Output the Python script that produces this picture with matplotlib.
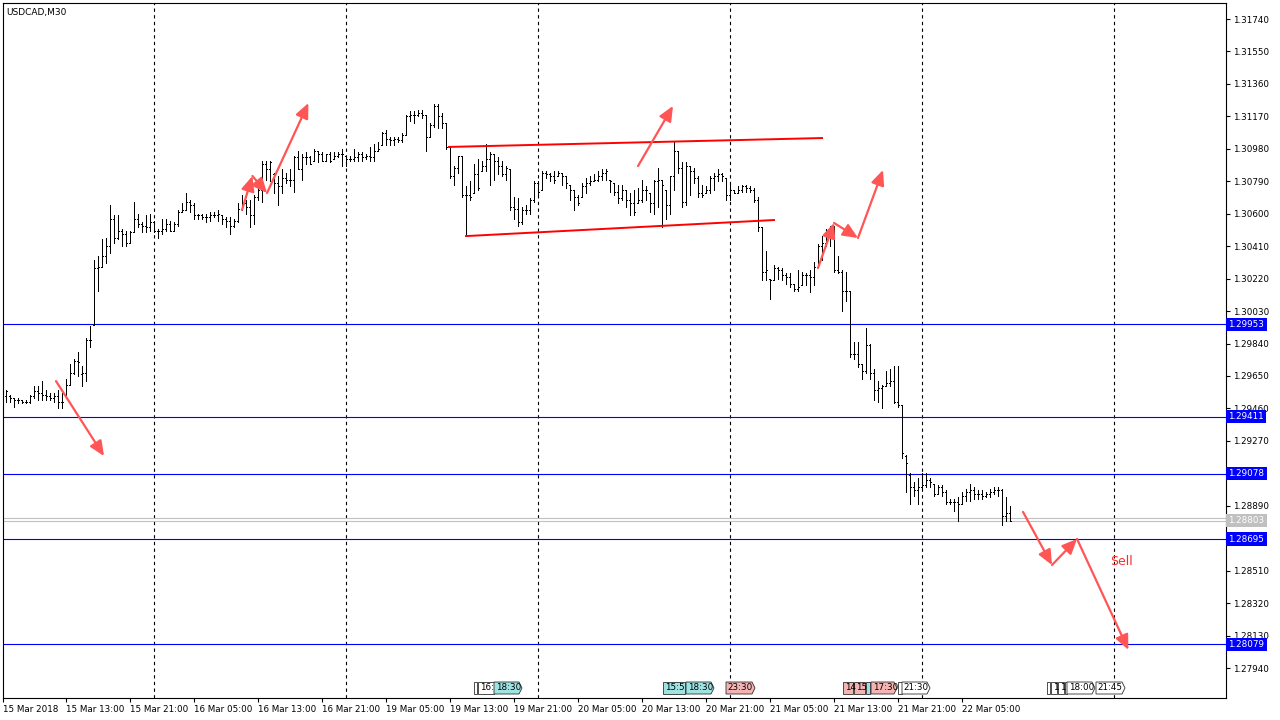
import matplotlib.pyplot as plt
import matplotlib.transforms as mtransforms
from matplotlib.collections import LineCollection
from matplotlib.patches import Polygon

plt.rcParams['font.family'] = ['DejaVu Sans']

# USDCAD M30 bars (bar 0 = 15 Mar 05:30)
opens = [
    1.2953, 1.2953, 1.2952, 1.2951, 1.2951, 1.2950, 1.2950, 1.2953, 1.2956, 1.2955,
    1.2954, 1.2953, 1.2952, 1.2953, 1.2950, 1.2953, 1.2960, 1.2967, 1.2974, 1.2966,
    1.2967, 1.2986, 1.2995, 1.3028, 1.3029, 1.3035, 1.3041, 1.3057, 1.3046, 1.3050,
    1.3048, 1.3043, 1.3049, 1.3057, 1.3054, 1.3053, 1.3052, 1.3055, 1.3050, 1.3050,
    1.3051, 1.3054, 1.3050, 1.3054,
    1.3061, 1.3062, 1.3067, 1.3065, 1.3059, 1.3059,
    1.3058, 1.3058, 1.3059, 1.3059, 1.3059, 1.3057, 1.3056, 1.3053, 1.3056, 1.3063,
    1.3066, 1.3064, 1.3059, 1.3070, 1.3074, 1.3089, 1.3086, 1.3083, 1.3078, 1.3076,
    1.3081, 1.3080, 1.3080, 1.3093, 1.3086, 1.3093, 1.3093, 1.3091, 1.3097, 1.3095,
    1.3091, 1.3095, 1.3092, 1.3094, 1.3095,
    1.3094, 1.3092, 1.3092, 1.3093, 1.3095,
    1.3093, 1.3094, 1.3093, 1.3097, 1.3100, 1.3107, 1.3104, 1.3103, 1.3104, 1.3103,
    1.3106, 1.3117, 1.3118, 1.3118, 1.3119, 1.3118, 1.3105, 1.3112, 1.3123, 1.3117,
    1.3113, 1.3099, 1.3082, 1.3087, 1.3094, 1.3071, 1.3071, 1.3072, 1.3083, 1.3085,
    1.3088, 1.3092, 1.3095, 1.3091, 1.3088, 1.3083, 1.3086, 1.3064, 1.3063,
    1.3055, 1.3062, 1.3062, 1.3068, 1.3078, 1.3074, 1.3084, 1.3083, 1.3082, 1.3082, 1.3084,
    1.3082, 1.3077, 1.3074, 1.3070, 1.3070, 1.3076, 1.3078, 1.3079, 1.3080, 1.3082,
    1.3084, 1.3080, 1.3078, 1.3073, 1.3069, 1.3074, 1.3068, 1.3066, 1.3066, 1.3068,
    1.3074, 1.3072, 1.3066, 1.3079,
    1.3080, 1.3074, 1.3065, 1.3082, 1.3097, 1.3087,
    1.3067, 1.3088, 1.3085, 1.3081, 1.3072, 1.3072, 1.3074, 1.3081, 1.3082, 1.3083,
    1.3081, 1.3071, 1.3074, 1.3072, 1.3074, 1.3076, 1.3075, 1.3074, 1.3068, 1.3052,
    1.3026, 1.3022, 1.3021, 1.3028, 1.3027, 1.3024, 1.3023, 1.3019, 1.3016, 1.3018,
    1.3024, 1.3024, 1.3023, 1.3029, 1.3041, 1.3043, 1.3047, 1.3050, 1.3027,
    1.3026, 1.3015, 1.3015, 1.2978, 1.2978, 1.2972, 1.2968, 1.2983, 1.2967, 1.2957, 1.2958,
    1.2959, 1.2961, 1.2962, 1.2950, 1.2948,
    1.2918, 1.2907, 1.2900, 1.2898, 1.2900, 1.2901, 1.2904, 1.2902, 1.2896, 1.2900,
    1.2897, 1.2891, 1.2891, 1.2891, 1.2890, 1.2895, 1.2897, 1.2898, 1.2896, 1.2896,
    1.2895, 1.2896, 1.2897, 1.2898, 1.2898, 1.2883, 1.2885,
]
highs = [
    1.2957, 1.2954, 1.2952, 1.2952, 1.2951, 1.2951, 1.2954, 1.2959, 1.2959, 1.2962,
    1.2957, 1.2955, 1.2955, 1.2957, 1.2955, 1.2963, 1.2972, 1.2975, 1.2979, 1.2971,
    1.2987, 1.2994, 1.3033, 1.3035, 1.3045, 1.3046, 1.3065, 1.3059, 1.3059, 1.3051,
    1.3050, 1.3050, 1.3067, 1.3060, 1.3055, 1.3059, 1.3060, 1.3056, 1.3051, 1.3057,
    1.3057, 1.3056, 1.3055, 1.3062,
    1.3066, 1.3072, 1.3068, 1.3066, 1.3060, 1.3060,
    1.3060, 1.3061, 1.3061, 1.3062, 1.3059, 1.3058, 1.3058, 1.3057, 1.3066, 1.3071,
    1.3068, 1.3068, 1.3071, 1.3076, 1.3091, 1.3091, 1.3091, 1.3084, 1.3082, 1.3086,
    1.3084, 1.3086, 1.3094, 1.3097, 1.3095, 1.3096, 1.3094, 1.3098, 1.3097, 1.3096,
    1.3095, 1.3096, 1.3096, 1.3096, 1.3098,
    1.3094, 1.3094, 1.3098, 1.3096, 1.3096,
    1.3095, 1.3099, 1.3101, 1.3102, 1.3108, 1.3109, 1.3105, 1.3105, 1.3105, 1.3107,
    1.3118, 1.3120, 1.3120, 1.3121, 1.3121, 1.3118, 1.3113, 1.3124, 1.3124, 1.3119,
    1.3113, 1.3099, 1.3088, 1.3094, 1.3094, 1.3076, 1.3079, 1.3089, 1.3092, 1.3091,
    1.3101, 1.3096, 1.3095, 1.3093, 1.3091, 1.3088, 1.3086, 1.3070, 1.3069,
    1.3064, 1.3065, 1.3069, 1.3079, 1.3079, 1.3085, 1.3085, 1.3084, 1.3085, 1.3085, 1.3084,
    1.3082, 1.3077, 1.3074, 1.3071, 1.3078, 1.3081, 1.3082, 1.3083, 1.3085, 1.3086,
    1.3086, 1.3080, 1.3078, 1.3077, 1.3077, 1.3074, 1.3072, 1.3074, 1.3075, 1.3080,
    1.3076, 1.3072, 1.3080, 1.3087,
    1.3080, 1.3074, 1.3082, 1.3102, 1.3097, 1.3090,
    1.3090, 1.3088, 1.3087, 1.3082, 1.3077, 1.3076, 1.3082, 1.3084, 1.3086, 1.3084,
    1.3081, 1.3078, 1.3074, 1.3076, 1.3077, 1.3077, 1.3076, 1.3075, 1.3070, 1.3052,
    1.3038, 1.3022, 1.3030, 1.3029, 1.3028, 1.3025, 1.3025, 1.3019, 1.3027, 1.3026,
    1.3025, 1.3027, 1.3032, 1.3042, 1.3047, 1.3051, 1.3053, 1.3053, 1.3035,
    1.3027, 1.3026, 1.3015, 1.2985, 1.2985, 1.2972, 1.2993, 1.2984, 1.2969, 1.2962, 1.2960,
    1.2968, 1.2969, 1.2971, 1.2971, 1.2948,
    1.2919, 1.2908, 1.2903, 1.2905, 1.2908, 1.2908, 1.2905, 1.2902, 1.2901, 1.2901,
    1.2898, 1.2893, 1.2893, 1.2894, 1.2897, 1.2899, 1.2902, 1.2900, 1.2898, 1.2898,
    1.2897, 1.2899, 1.2900, 1.2900, 1.2899, 1.2894, 1.2889,
]
lows = [
    1.2950, 1.2950, 1.2947, 1.2949, 1.2949, 1.2949, 1.2949, 1.2952, 1.2951, 1.2951,
    1.2951, 1.2951, 1.2950, 1.2946, 1.2946, 1.2953, 1.2960, 1.2966, 1.2965, 1.2959,
    1.2962, 1.2982, 1.2995, 1.3015, 1.3029, 1.3031, 1.3037, 1.3043, 1.3045, 1.3041,
    1.3041, 1.3043, 1.3049, 1.3052, 1.3049, 1.3049, 1.3050, 1.3049, 1.3046, 1.3048,
    1.3050, 1.3050, 1.3050, 1.3053,
    1.3061, 1.3062, 1.3061, 1.3057, 1.3057, 1.3057,
    1.3055, 1.3056, 1.3058, 1.3056, 1.3054, 1.3052, 1.3048, 1.3052, 1.3055, 1.3062,
    1.3060, 1.3052, 1.3054, 1.3068, 1.3067, 1.3080, 1.3079, 1.3072, 1.3065, 1.3072,
    1.3078, 1.3076, 1.3073, 1.3086, 1.3080, 1.3089, 1.3089, 1.3091, 1.3090, 1.3091,
    1.3091, 1.3090, 1.3092, 1.3093, 1.3088,
    1.3088, 1.3091, 1.3091, 1.3091, 1.3091,
    1.3092, 1.3091, 1.3091, 1.3097, 1.3100, 1.3100, 1.3100, 1.3100, 1.3102, 1.3102,
    1.3106, 1.3114, 1.3113, 1.3117, 1.3116, 1.3097, 1.3105, 1.3111, 1.3110, 1.3110,
    1.3098, 1.3081, 1.3077, 1.3084, 1.3070, 1.3047, 1.3068, 1.3072, 1.3074, 1.3085,
    1.3085, 1.3077, 1.3080, 1.3083, 1.3082, 1.3080, 1.3062, 1.3057, 1.3053,
    1.3054, 1.3060, 1.3060, 1.3067, 1.3070, 1.3074, 1.3081, 1.3079, 1.3078, 1.3082, 1.3077,
    1.3075, 1.3068, 1.3062, 1.3065, 1.3070, 1.3072, 1.3077, 1.3079, 1.3079, 1.3080,
    1.3080, 1.3073, 1.3071, 1.3066, 1.3068, 1.3064, 1.3059, 1.3059, 1.3066, 1.3067,
    1.3068, 1.3061, 1.3060, 1.3064,
    1.3052, 1.3057, 1.3060, 1.3074, 1.3084, 1.3064,
    1.3065, 1.3071, 1.3078, 1.3070, 1.3070, 1.3072, 1.3072, 1.3074, 1.3079, 1.3079,
    1.3068, 1.3068, 1.3072, 1.3072, 1.3073, 1.3073, 1.3073, 1.3067, 1.3050, 1.3021,
    1.3021, 1.3010, 1.3021, 1.3022, 1.3021, 1.3019, 1.3017, 1.3015, 1.3015, 1.3018,
    1.3018, 1.3014, 1.3018, 1.3029, 1.3033, 1.3041, 1.3041, 1.3026, 1.3025,
    1.3003, 1.3009, 1.2976, 1.2975, 1.2970, 1.2963, 1.2967, 1.2963, 1.2951, 1.2950, 1.2946,
    1.2959, 1.2959, 1.2949, 1.2947, 1.2917,
    1.2897, 1.2890, 1.2895, 1.2890, 1.2899, 1.2900, 1.2900, 1.2895, 1.2896, 1.2895,
    1.2890, 1.2890, 1.2886, 1.2880, 1.2890, 1.2892, 1.2892, 1.2893, 1.2893, 1.2893,
    1.2894, 1.2894, 1.2896, 1.2895, 1.2878, 1.2880, 1.2880,
]
closes = [
    1.2956, 1.2952, 1.2951, 1.2951, 1.2950, 1.2950, 1.2953, 1.2956, 1.2955, 1.2954,
    1.2953, 1.2952, 1.2953, 1.2950, 1.2950, 1.2960, 1.2967, 1.2974, 1.2973, 1.2967,
    1.2986, 1.2986, 1.3028, 1.3029, 1.3035, 1.3041, 1.3057, 1.3046, 1.3050, 1.3048,
    1.3043, 1.3049, 1.3057, 1.3054, 1.3053, 1.3052, 1.3055, 1.3050, 1.3050, 1.3051,
    1.3054, 1.3050, 1.3054, 1.3061,
    1.3062, 1.3067, 1.3065, 1.3059, 1.3059, 1.3058,
    1.3058, 1.3059, 1.3059, 1.3060, 1.3057, 1.3056, 1.3053, 1.3056, 1.3063, 1.3066,
    1.3064, 1.3059, 1.3070, 1.3074, 1.3089, 1.3086, 1.3090, 1.3078, 1.3076, 1.3081,
    1.3080, 1.3080, 1.3093, 1.3086, 1.3093, 1.3093, 1.3089, 1.3097, 1.3095, 1.3091,
    1.3095, 1.3091, 1.3094, 1.3095, 1.3095,
    1.3092, 1.3092, 1.3093, 1.3095, 1.3093,
    1.3094, 1.3093, 1.3097, 1.3098, 1.3107, 1.3104, 1.3103, 1.3104, 1.3103, 1.3106,
    1.3117, 1.3118, 1.3118, 1.3119, 1.3118, 1.3105, 1.3112, 1.3123, 1.3117, 1.3113,
    1.3099, 1.3082, 1.3087, 1.3094, 1.3071, 1.3071, 1.3070, 1.3083, 1.3075, 1.3088,
    1.3092, 1.3095, 1.3091, 1.3088, 1.3083, 1.3087, 1.3064, 1.3063, 1.3055,
    1.3062, 1.3062, 1.3068, 1.3078, 1.3073, 1.3084, 1.3083, 1.3082, 1.3080, 1.3084, 1.3082,
    1.3078, 1.3074, 1.3070, 1.3066, 1.3076, 1.3078, 1.3079, 1.3080, 1.3082, 1.3084,
    1.3085, 1.3079, 1.3073, 1.3069, 1.3074, 1.3068, 1.3066, 1.3061, 1.3068, 1.3074,
    1.3074, 1.3066, 1.3079, 1.3080,
    1.3077, 1.3065, 1.3082, 1.3097, 1.3087, 1.3067,
    1.3088, 1.3085, 1.3081, 1.3072, 1.3071, 1.3074, 1.3081, 1.3082, 1.3083, 1.3082,
    1.3071, 1.3074, 1.3072, 1.3074, 1.3076, 1.3075, 1.3074, 1.3068, 1.3052, 1.3026,
    1.3027, 1.3021, 1.3028, 1.3027, 1.3024, 1.3023, 1.3019, 1.3016, 1.3017, 1.3024,
    1.3024, 1.3023, 1.3029, 1.3041, 1.3043, 1.3047, 1.3050, 1.3027, 1.3026,
    1.3015, 1.3015, 1.2978, 1.2978, 1.2972, 1.2968, 1.2983, 1.2967, 1.2957, 1.2958, 1.2959,
    1.2961, 1.2962, 1.2950, 1.2948, 1.2920,
    1.2914, 1.2900, 1.2898, 1.2900, 1.2901, 1.2904, 1.2903, 1.2896, 1.2900, 1.2897,
    1.2891, 1.2891, 1.2891, 1.2890, 1.2895, 1.2897, 1.2898, 1.2896, 1.2896, 1.2895,
    1.2896, 1.2897, 1.2898, 1.2898, 1.2883, 1.2885, 1.2880,
]

# time axis (bar index -> label)
time_pos = [-0.75, 15, 31, 47, 63, 79, 95, 111, 127, 143, 159, 175, 191, 207, 223, 239]
time_labels = ['15 Mar 2018', '15 Mar 13:00', '15 Mar 21:00', '16 Mar 05:00', '16 Mar 13:00',
               '16 Mar 21:00', '19 Mar 05:00', '19 Mar 13:00', '19 Mar 21:00', '20 Mar 05:00',
               '20 Mar 13:00', '20 Mar 21:00', '21 Mar 05:00', '21 Mar 13:00', '21 Mar 21:00',
               '22 Mar 05:00']
day_starts = [37, 85, 133, 181, 229, 277]

price_ticks = [1.27940, 1.28130, 1.28320, 1.28510, 1.28700, 1.28890, 1.29080, 1.29270,
               1.29460, 1.29650, 1.29840, 1.30030, 1.30220, 1.30410, 1.30600, 1.30790,
               1.30980, 1.31170, 1.31360, 1.31550, 1.31740]

levels = [1.29953, 1.29411, 1.29078, 1.28695, 1.28079]
bid = 1.28803
ask = 1.28817

# channel lines (bar index, price)
chan_top_x = [110.75, 204]
chan_top_y = [1.30991, 1.31043]
chan_bot_x = [115, 192]
chan_bot_y = [1.30469, 1.30563]

# hand drawn arrow paths
arrow_paths = [
    ([12.5, 24.5], [1.29620, 1.29181]),
    ([59, 61.6, 65.25, 75.6], [1.30622, 1.30821, 1.30721, 1.31248]),
    ([158, 166.75], [1.30879, 1.31231]),
    ([203, 207, 213, 219.25], [1.30282, 1.30546, 1.30458, 1.30856]),
    ([254.25, 261.5, 267.75, 280.6], [1.28854, 1.28543, 1.28696, 1.28046]),
]

# calendar events along the time axis
ev_start = [117, 118, 122, 164.25, 170, 180, 209.25, 212, 215, 216.25, 223, 224,
            260.25, 261.25, 263, 264.75, 265.25, 272.5]
ev_end = [117.75, 122, 129, 169.75, 177, 187.25, 211.75, 214.75, 216, 222.75, 224, 231,
          261, 262.75, 264.5, 265.25, 272.25, 279.75]
ev_text = ['', '16:', '18:30', '15:5', '18:30', '23:30', '14', '15', '', '17:30', '', '21:30',
           '', '1', '1', '', '18:00', '21:45']
ev_kind = ['w', 'w', 'c', 'c', 'c', 'p', 'p', 'p', 'c', 'p', 'w', 'w',
           'w', 'w', 'w', 'w', 'w', 'w']
ev_color = {'w': 'white', 'c': '#9FE2E2', 'p': '#F4B4B4'}

fig = plt.figure(figsize=(12.8, 7.2), dpi=100)
ax = fig.add_axes([3 / 1280, 22 / 720, 1223 / 1280, 695 / 720])
ax.set_xlim(-0.75, 305)
ax.set_ylim(1.277645, 1.318337)

# day separators
for d in day_starts:
    ax.axvline(d, color='black', lw=0.8, ls=(0, (3, 3)), zorder=1)

# support / resistance levels
for lv in levels:
    ax.axhline(lv, color='#0000FF', lw=0.8, zorder=1)
ax.axhline(bid, color='#C0C0C0', lw=0.8, zorder=1)
ax.axhline(ask, color='#C0C0C0', lw=0.8, zorder=1)

# OHLC bars
segs = []
for i in range(len(closes)):
    segs.append([(i, lows[i]), (i, highs[i])])
    segs.append([(i - 0.35, opens[i]), (i, opens[i])])
    segs.append([(i, closes[i]), (i + 0.35, closes[i])])
ax.add_collection(LineCollection(segs, colors='black', linewidths=0.72, antialiaseds=False, zorder=2))

# channel
ax.plot(chan_top_x, chan_top_y, color='#FF0000', lw=1.4, zorder=3)
ax.plot(chan_bot_x, chan_bot_y, color='#FF0000', lw=1.4, zorder=3)

# arrows
for xs, ys in arrow_paths:
    for k in range(len(xs) - 1):
        ax.annotate('', xy=(xs[k + 1], ys[k + 1]), xytext=(xs[k], ys[k]),
                    arrowprops=dict(arrowstyle='-|>,head_length=0.9,head_width=0.4',
                                    color='#FF5555', lw=1.6, shrinkA=0, shrinkB=0), zorder=4)
ax.text(276, 1.28561, 'Sell', color='#FF2A2A', fontsize=9, va='center', ha='left')

# price labels for the lines
yt = mtransforms.blended_transform_factory(ax.transAxes, ax.transData)
for lv in levels:
    ax.text(1.002, lv, f'{lv:.5f}', transform=yt, color='white', fontsize=6.3, va='center',
            ha='left', clip_on=False, zorder=6,
            bbox=dict(boxstyle='square,pad=0.25', fc='#0000FF', ec='none'))
ax.text(1.002, bid, f'{bid:.5f}', transform=yt, color='white', fontsize=6.3, va='center',
        ha='left', clip_on=False, zorder=6,
        bbox=dict(boxstyle='square,pad=0.25', fc='#C0C0C0', ec='none'))

# events
xt = mtransforms.blended_transform_factory(ax.transData, ax.transAxes)
y0, y1 = 4 / 695, 16 / 695
for s, e, t, k in zip(ev_start, ev_end, ev_text, ev_kind):
    if t and ':' in t and len(t) == 5:
        pts = [(s, y0), (e - 0.75, y0), (e, (y0 + y1) / 2), (e - 0.75, y1), (s, y1)]
    else:
        pts = [(s, y0), (e, y0), (e, y1), (s, y1)]
    ax.add_patch(Polygon(pts, closed=True, transform=xt, fc=ev_color[k], ec='#303030',
                         lw=0.6, zorder=5))
    if t:
        ax.text(s + 0.4, (y0 + y1) / 2, t, transform=xt, fontsize=6.3, va='center',
                ha='left', zorder=6)

# axes styling
for sp in ax.spines.values():
    sp.set_color('black')
    sp.set_linewidth(0.8)
ax.yaxis.tick_right()
ax.set_yticks(price_ticks)
# labels hidden under the level boxes in the terminal
hidden = [1.29080, 1.28700]
ax.set_yticklabels(['' if v in hidden else f'{v:.5f}' for v in price_ticks])
ax.tick_params(axis='y', direction='out', length=3, width=0.8, pad=2, labelsize=6.3)
ax.set_xticks(time_pos)
ax.set_xticklabels(time_labels)
ax.tick_params(axis='x', direction='out', length=3, width=0.8, pad=2, labelsize=6.3)
for lab in ax.get_xticklabels():
    lab.set_ha('left')

fig.text(6 / 1280, 1 - 12 / 720, 'USDCAD,M30', fontsize=6.5, va='center', ha='left')

fig.savefig('out.png', dpi=100)
